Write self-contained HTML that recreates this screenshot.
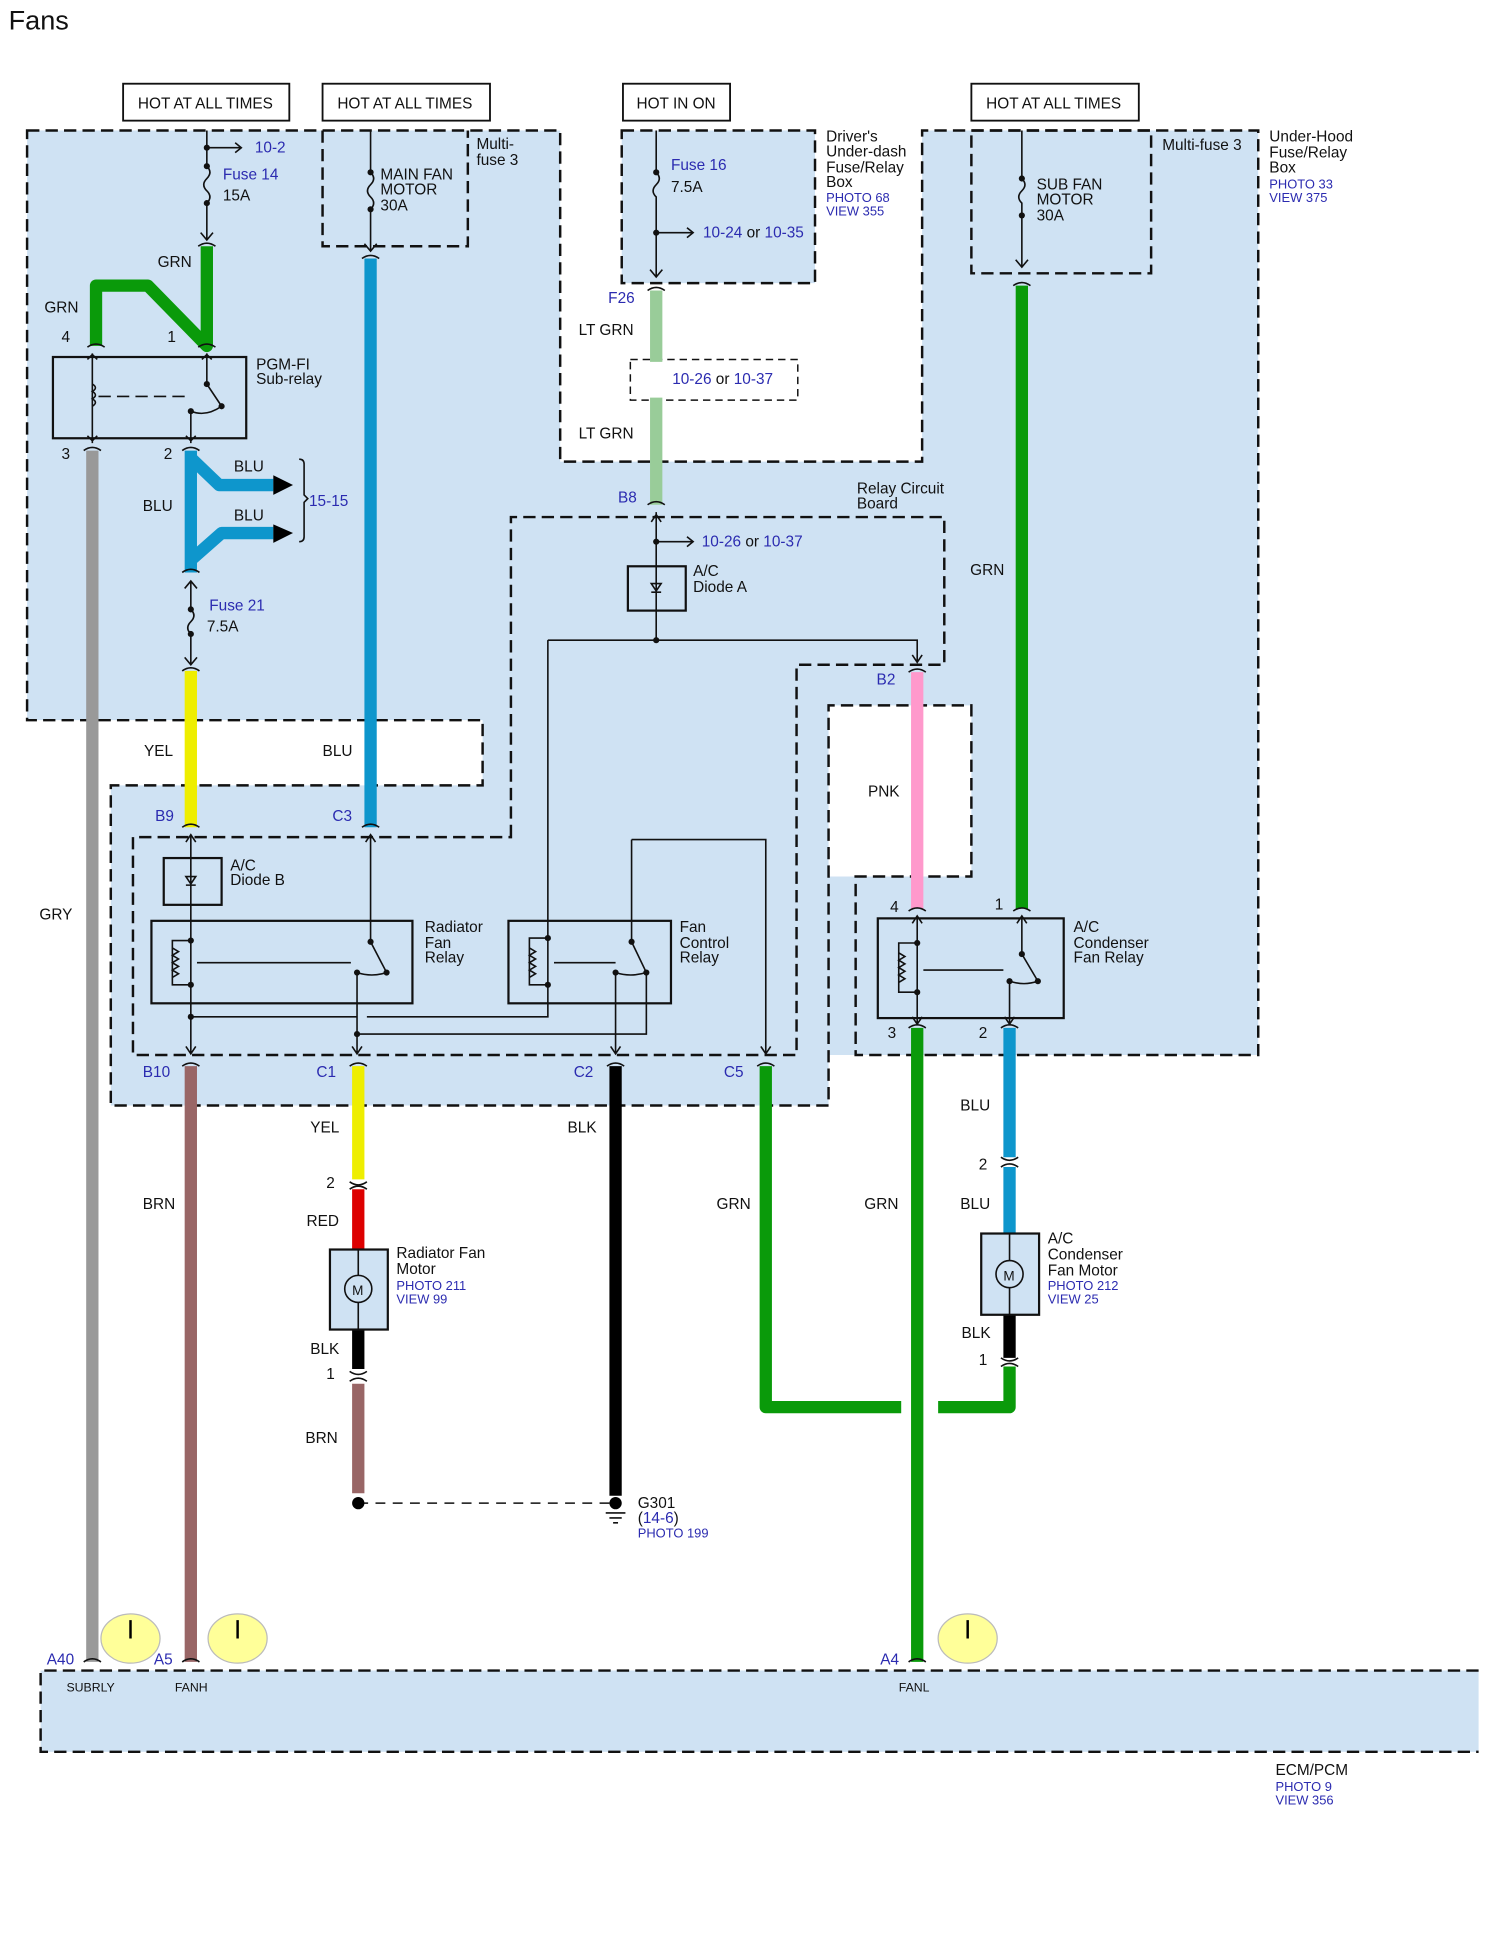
<!DOCTYPE html>
<html><head><meta charset="utf-8"><style>
html,body{margin:0;padding:0;background:#fff}
svg{display:block}
text{font-family:"Liberation Sans",sans-serif;font-size:12.5px;fill:#111}
.b{fill:#2b2bb0}
.s{font-size:10.5px}
.d{fill:none;stroke:#111;stroke-width:2;stroke-dasharray:10 5}
.t{fill:none;stroke:#111;stroke-width:1.3}
.w{fill:none;stroke-width:10;stroke-linejoin:round}
</style></head><body>
<svg width="1502" height="1950" viewBox="0 0 1220 1584" preserveAspectRatio="none" xmlns="http://www.w3.org/2000/svg">
<text x="7" y="24" style="font-size:22px">Fans</text>
<!-- blue regions -->
<path d="M22,106 H455 V375 H749 V106 H1022 V857 H673 V898 H90 V638 H392 V585 H22 Z" fill="#cfe2f3"/>
<rect x="673" y="573" width="116" height="139" fill="#fff"/>
<rect x="505" y="106" width="157" height="124" fill="#cfe2f3"/>
<rect x="33" y="1357" width="1168" height="66" fill="#cfe2f3"/>
<!-- dashed outlines -->
<path class="d" d="M22,106 H455 V375 H749 V106 H1022 V857 H695 V712 H789 V573 H673 V898 H90 V638 H392 V585 H22 Z"/>
<path class="d" d="M262,106 V200 H380 V106"/>
<rect class="d" x="505" y="106" width="157" height="124"/>
<rect class="d" x="789" y="106" width="146" height="116"/>
<path class="d" d="M415,680 V420 H767 V540 H647 V857 H108 V680 Z"/>
<rect x="512" y="292" width="136" height="33" fill="#fff" class="d" style="stroke-width:1.2;stroke-dasharray:6 4"/>
<path class="d" d="M1201,1357 H33 V1423 H1201"/>
<!-- HOT boxes -->
<g fill="#fff" stroke="#111" stroke-width="1.5">
<rect x="100" y="68" width="135" height="30"/><rect x="262" y="68" width="136" height="30"/>
<rect x="506" y="68" width="87" height="30"/><rect x="789" y="68" width="136" height="30"/></g>
<text x="112" y="88">HOT AT ALL TIMES</text><text x="274" y="88">HOT AT ALL TIMES</text>
<text x="517" y="88">HOT IN ON</text><text x="801" y="88">HOT AT ALL TIMES</text>
<!-- thick wires -->
<path class="w" stroke="#0a9a0a" d="M168,200 V281 L120,232 H78 V281"/>
<path class="w" stroke="#999" d="M75,366 V1350"/>
<path class="w" stroke="#0e96cc" d="M155,366 V465 M155,372 L178,394 H222 M155,455 L180,433 H222"/>
<path d="M222,386 L238,394 L222,402 Z M222,426 L238,433 L222,441 Z" fill="#000"/>
<path class="w" stroke="#eeee00" d="M155,545 V672"/>
<path class="w" stroke="#0e96cc" d="M301,210 V672"/>
<path class="w" stroke="#99cc99" d="M533,236 V294 M533,323 V410"/>
<path class="w" stroke="#ff99cc" d="M745,546 V738"/>
<path class="w" stroke="#0a9a0a" d="M830,232 V738"/>
<path class="w" stroke="#0a9a0a" d="M745,835 V1350"/>
<path class="w" stroke="#0e96cc" d="M820,835 V940 M820,948 V1003"/>
<path class="w" stroke="#000" d="M820,1068 V1103"/>
<path class="w" stroke="#0a9a0a" d="M820,1110 V1143 H762 M732,1143 H622 V866"/>
<path class="w" stroke="#996666" d="M155,866 V1350"/>
<path class="w" stroke="#eeee00" d="M291,866 V958"/>
<path class="w" stroke="#dd0000" d="M291,966 V1015"/>
<path class="w" stroke="#000" d="M291,1080 V1112"/>
<path class="w" stroke="#996666" d="M291,1124 V1213"/>
<path class="w" stroke="#000" d="M500,866 V1215"/>
<!-- connector caps -->
<g class="t" stroke-width="2">
<path d="M161,200 q7,-5 14,0 M71,282 q7,-5 14,0 M161,282 q7,-5 14,0 M68,366 q7,-5 14,0 M148,366 q7,-5 14,0 M148,465 q7,-5 14,0 M148,545 q7,-5 14,0 M148,672 q7,-5 14,0 M294,210 q7,-5 14,0 M294,672 q7,-5 14,0 M526,236 q7,-5 14,0 M526,410 q7,-5 14,0 M738,546 q7,-5 14,0 M738,740 q7,-5 14,0 M823,232 q7,-5 14,0 M823,740 q7,-5 14,0 M738,835 q7,-5 14,0 M813,835 q7,-5 14,0 M148,866 q7,-5 14,0 M284,866 q7,-5 14,0 M493,866 q7,-5 14,0 M615,866 q7,-5 14,0 M813,940 q7,5 14,0 M813,948 q7,-5 14,0 M813,1103 q7,5 14,0 M813,1110 q7,-5 14,0 M284,960 q7,5 14,0 M284,966 q7,-5 14,0 M284,1114 q7,5 14,0 M284,1122 q7,-5 14,0 M68,1350 q7,-5 14,0 M148,1350 q7,-5 14,0 M738,1350 q7,-5 14,0"/></g>
<!-- thin lines: fuses -->
<g class="t">
<path d="M168,106 V135 q5,5 0,10 q-5,5 0,10 q5,5 0,10 V195 M163,189 l5,6 l5,-6"/>
<path d="M168,120 H195 M191,116 l5,4 l-5,4"/>
<path d="M301,106 V140 q5,5 0,10 q-5,5 0,10 q5,5 0,10 V204 M296,198 l5,6 l5,-6"/>
<path d="M533,106 V140 q5,5 0,10 q-5,5 0,10 V225 M528,219 l5,6 l5,-6 M533,189 H562 M558,185 l5,4 l-5,4"/>
<path d="M830,106 V145 q5,5 0,10 q-5,5 0,10 V217 M825,211 l5,6 l5,-6"/>
<path d="M155,472 V495 q5,5 0,10 q-5,5 0,10 V540 M150,478 l5,-6 l5,6 M150,534 l5,6 l5,-6"/>
</g>
<g fill="#111"><circle cx="168" cy="120" r="2.5"/><circle cx="168" cy="135" r="2.5"/><circle cx="168" cy="165" r="2.5"/><circle cx="301" cy="140" r="2.5"/><circle cx="301" cy="170" r="2.5"/><circle cx="533" cy="140" r="2.5"/><circle cx="533" cy="189" r="2.5"/><circle cx="830" cy="145" r="2.5"/><circle cx="830" cy="175" r="2.5"/><circle cx="155" cy="495" r="2.5"/><circle cx="155" cy="515" r="2.5"/><circle cx="533" cy="440" r="2.5"/><circle cx="533" cy="520" r="2.5"/></g>
<!-- PGM-FI relay -->
<rect x="43" y="290" width="157" height="66" fill="none" stroke="#111" stroke-width="1.8"/>
<g class="t">
<path d="M75,287 V360 M71,292 l4,-4 l4,4 M71,354 l4,4 l4,-4"/>
<path d="M75,312 q5,3 0,6 q5,3 0,6 q5,3 0,6"/><path d="M80,322 H150" stroke-dasharray="10 5"/>
<path d="M168,287 V312 L180,330 M164,292 l4,-4 l4,4 M155,334 V360 M151,354 l4,4 l4,-4 M155,334 q12,5 25,-4" />
</g>
<!-- relay board lines -->
<g class="t">
<path d="M533,416 V520 M529,424 l4,-6 l4,6 M533,440 H562 M558,436 l5,4 l-5,4"/>
<rect x="510" y="460" width="47" height="36" stroke-width="1.8"/>
<path d="M529,474 h8 l-4,6 z M529,481 h8"/>
<path d="M445,520 H745 V538 M741,532 l4,6 l4,-6"/>
<path d="M445,520 V826 H298 M290,826 H155"/>
<path d="M155,678 V855 M151,684 l4,-6 l4,6 M151,850 l4,6 l4,-6"/>
<rect x="133" y="697" width="47" height="38" stroke-width="1.8"/>
<path d="M151,712 h8 l-4,6 z M151,719 h8"/>
<rect x="123" y="748" width="212" height="67" stroke-width="1.8"/>
<path d="M155,764 H140 V800 H155 M140,770 l5,3 l-5,3 l5,3 l-5,3 l5,3 l-5,3 l5,3 l-5,3 M160,782 H285" />
<path d="M301,678 V765 L314,790 M297,684 l4,-6 l4,6 M290,790 V855 M286,850 l4,6 l4,-6 M290,790 q12,4 24,0"/>
<rect x="413" y="748" width="132" height="67" stroke-width="1.8"/>
<path d="M445,762 H430 V800 H445 M430,770 l5,3 l-5,3 l5,3 l-5,3 l5,3 l-5,3 l5,3 l-5,3 M450,782 H500"/>
<path d="M513,682 V765 L525,790 M500,790 V855 M496,850 l4,6 l4,-6 M500,790 q12,4 25,0 M525,790 V840 H290"/>
<path d="M513,682 H622 V855 M618,850 l4,6 l4,-6"/>
<rect x="713" y="746" width="151" height="81" stroke-width="1.8"/>
<path d="M745,745 V832 M741,750 l4,-6 l4,6 M741,826 l4,6 l4,-6 M745,766 H730 V806 H745 M730,774 l5,3 l-5,3 l5,3 l-5,3 l5,3 l-5,3 l5,3 l-5,3 M750,788 H815"/>
<path d="M830,745 V775 L843,797 M826,750 l4,-6 l4,6 M820,797 V832 M816,826 l4,6 l4,-6 M820,797 q12,4 23,0"/>
</g>
<g fill="#111"><circle cx="155" cy="764" r="2.5"/><circle cx="155" cy="800" r="2.5"/><circle cx="155" cy="826" r="2.5"/><circle cx="445" cy="762" r="2.5"/><circle cx="445" cy="800" r="2.5"/><circle cx="290" cy="840" r="2.5"/><circle cx="301" cy="765" r="2.5"/><circle cx="314" cy="790" r="2.5"/><circle cx="290" cy="790" r="2.5"/><circle cx="513" cy="765" r="2.5"/><circle cx="525" cy="790" r="2.5"/><circle cx="500" cy="790" r="2.5"/><circle cx="745" cy="766" r="2.5"/><circle cx="745" cy="806" r="2.5"/><circle cx="830" cy="775" r="2.5"/><circle cx="843" cy="797" r="2.5"/><circle cx="820" cy="797" r="2.5"/><circle cx="168" cy="312" r="2.5"/><circle cx="180" cy="330" r="2.5"/><circle cx="155" cy="334" r="2.5"/></g>
<path d="M243,373 q4,0 4,4 V402 l3,3 l-3,3 V436 q0,4 -4,4" class="t"/>
<!-- motors -->
<rect x="268" y="1015" width="47" height="65" fill="#cfe2f3" stroke="#111" stroke-width="1.8"/>
<path class="t" d="M291,1015 V1080"/><circle cx="291" cy="1047" r="11" fill="#cfe2f3" stroke="#111" stroke-width="1.3"/><text x="286" y="1052" style="font-size:11px">M</text>
<rect x="797" y="1002" width="47" height="66" fill="#cfe2f3" stroke="#111" stroke-width="1.8"/>
<path class="t" d="M820,1002 V1068"/><circle cx="820" cy="1035" r="11" fill="#cfe2f3" stroke="#111" stroke-width="1.3"/><text x="815" y="1040" style="font-size:11px">M</text>
<!-- ground -->
<path d="M291,1221 H500" class="t" stroke-dasharray="8 6"/>
<circle cx="291" cy="1221" r="5" fill="#000"/><circle cx="500" cy="1221" r="5" fill="#000"/>
<path class="t" d="M492,1229 h16 M495,1233 h10 M498,1237 h4"/>
<!-- yellow circles -->
<g fill="#ffff99" stroke="#bbb"><ellipse cx="106" cy="1331" rx="24" ry="20"/><ellipse cx="193" cy="1331" rx="24" ry="20"/><ellipse cx="786" cy="1331" rx="24" ry="20"/></g>
<path d="M106,1316 V1331 M193,1316 V1331 M786,1316 V1331" stroke="#000" stroke-width="2"/>
<!-- labels -->
<text x="207" y="124" class="b">10-2</text><text x="181" y="146" class="b">Fuse 14</text><text x="181" y="163">15A</text>
<text x="128" y="217">GRN</text><text x="36" y="254">GRN</text><text x="50" y="278">4</text><text x="136" y="278">1</text>
<text x="208" y="300">PGM-FI</text><text x="208" y="312">Sub-relay</text>
<text x="50" y="373">3</text><text x="133" y="373">2</text>
<text x="190" y="383">BLU</text><text x="116" y="415">BLU</text><text x="190" y="423">BLU</text><text x="251" y="411" class="b">15-15</text>
<text x="170" y="496" class="b">Fuse 21</text><text x="168" y="513">7.5A</text>
<text x="117" y="614">YEL</text><text x="262" y="614">BLU</text>
<text x="126" y="667" class="b">B9</text><text x="270" y="667" class="b">C3</text>
<text x="187" y="707">A/C</text><text x="187" y="719">Diode B</text>
<text x="345" y="757">Radiator</text><text x="345" y="770">Fan</text><text x="345" y="782">Relay</text>
<text x="552" y="757">Fan</text><text x="552" y="770">Control</text><text x="552" y="782">Relay</text>
<text x="116" y="875" class="b">B10</text><text x="257" y="875" class="b">C1</text><text x="466" y="875" class="b">C2</text><text x="588" y="875" class="b">C5</text>
<text x="32" y="747">GRY</text>
<text x="387" y="121">Multi-</text><text x="387" y="134">fuse 3</text>
<text x="309" y="146">MAIN FAN</text><text x="309" y="158">MOTOR</text><text x="309" y="171">30A</text>
<text x="545" y="138" class="b">Fuse 16</text><text x="545" y="156">7.5A</text>
<text x="571" y="193"><tspan class="b">10-24</tspan> or <tspan class="b">10-35</tspan></text>
<text x="671" y="115">Driver's</text><text x="671" y="127">Under-dash</text><text x="671" y="140">Fuse/Relay</text><text x="671" y="152">Box</text>
<text x="671" y="164" class="b s">PHOTO 68</text><text x="671" y="175" class="b s">VIEW 355</text>
<text x="494" y="246" class="b">F26</text><text x="470" y="272">LT GRN</text>
<text x="546" y="312"><tspan class="b">10-26</tspan> or <tspan class="b">10-37</tspan></text>
<text x="470" y="356">LT GRN</text><text x="502" y="408" class="b">B8</text>
<text x="696" y="401">Relay Circuit</text><text x="696" y="413">Board</text>
<text x="570" y="444"><tspan class="b">10-26</tspan> or <tspan class="b">10-37</tspan></text>
<text x="563" y="468">A/C</text><text x="563" y="481">Diode A</text>
<text x="712" y="556" class="b">B2</text><text x="705" y="647">PNK</text>
<text x="944" y="122">Multi-fuse 3</text>
<text x="842" y="154">SUB FAN</text><text x="842" y="166">MOTOR</text><text x="842" y="179">30A</text>
<text x="1031" y="115">Under-Hood</text><text x="1031" y="128">Fuse/Relay</text><text x="1031" y="140">Box</text>
<text x="1031" y="153" class="b s">PHOTO 33</text><text x="1031" y="164" class="b s">VIEW 375</text>
<text x="788" y="467">GRN</text>
<text x="723" y="741">4</text><text x="808" y="739">1</text>
<text x="872" y="757">A/C</text><text x="872" y="770">Condenser</text><text x="872" y="782">Fan Relay</text>
<text x="721" y="843">3</text><text x="795" y="843">2</text>
<text x="780" y="902">BLU</text><text x="795" y="950">2</text><text x="780" y="982">BLU</text>
<text x="851" y="1010">A/C</text><text x="851" y="1023">Condenser</text><text x="851" y="1036">Fan Motor</text>
<text x="851" y="1048" class="b s">PHOTO 212</text><text x="851" y="1059" class="b s">VIEW 25</text>
<text x="781" y="1087">BLK</text><text x="795" y="1109">1</text>
<text x="252" y="920">YEL</text><text x="461" y="920">BLK</text><text x="116" y="982">BRN</text>
<text x="582" y="982">GRN</text><text x="702" y="982">GRN</text>
<text x="265" y="965">2</text><text x="249" y="996">RED</text>
<text x="322" y="1022">Radiator Fan</text><text x="322" y="1035">Motor</text>
<text x="322" y="1048" class="b s">PHOTO 211</text><text x="322" y="1059" class="b s">VIEW 99</text>
<text x="252" y="1100">BLK</text><text x="265" y="1120">1</text><text x="248" y="1172">BRN</text>
<text x="518" y="1225">G301</text><text x="518" y="1237">(<tspan class="b">14-6</tspan>)</text><text x="518" y="1249" class="b s">PHOTO 199</text>
<text x="38" y="1352" class="b">A40</text><text x="125" y="1352" class="b">A5</text><text x="715" y="1352" class="b">A4</text>
<text x="54" y="1374" style="font-size:10px">SUBRLY</text><text x="142" y="1374" style="font-size:10px">FANH</text><text x="730" y="1374" style="font-size:10px">FANL</text>
<text x="1036" y="1442">ECM/PCM</text><text x="1036" y="1455" class="b s">PHOTO 9</text><text x="1036" y="1466" class="b s">VIEW 356</text>
</svg>
</body></html>
